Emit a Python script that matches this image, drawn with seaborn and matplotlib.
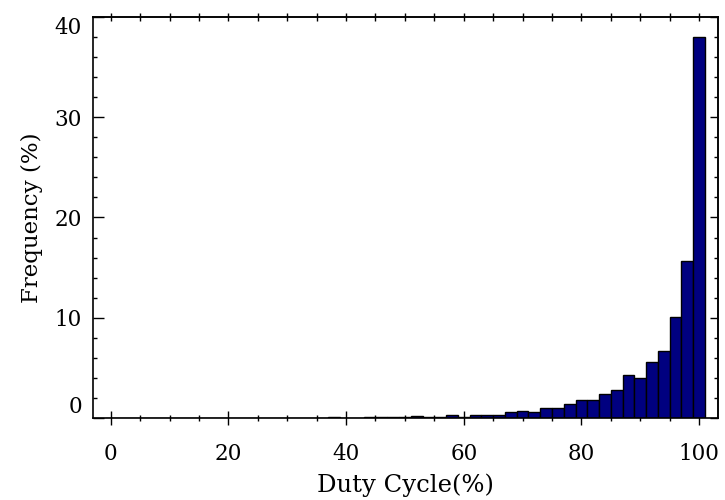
"""
Histogram of duty cycle (percent of samples per 2% bin), IDL-like look.
Output: out.png
"""

import matplotlib
matplotlib.use("Agg")
import matplotlib.pyplot as plt
import seaborn as sns
from matplotlib.ticker import MultipleLocator

# bin centres (duty cycle, %) and frequency (%)
duty_centres = list(range(0, 101, 2))
frequency = [
    0, 0, 0, 0, 0, 0, 0, 0, 0, 0,
    0, 0, 0, 0, 0, 0, 0, 0,
    0.02, 0.05, 0.03, 0.04, 0.05, 0.06, 0.05, 0.08, 0.15, 0.08,
    0.12, 0.33, 0.13, 0.27, 0.30, 0.33, 0.63, 0.73, 0.60, 0.97,
    1.00, 1.37, 1.80, 1.80, 2.43, 2.83, 4.30, 4.03, 5.57, 6.70,
    10.1, 15.7, 38.0,
]

x_ticks = [0, 20, 40, 60, 80, 100]
y_ticks = [0, 10, 20, 30, 40]

sns.set_style("ticks")
plt.rcParams["font.family"] = ["DejaVu Serif"]
plt.rcParams["text.color"] = "black"
plt.rcParams["axes.labelcolor"] = "black"
plt.rcParams["xtick.color"] = "black"
plt.rcParams["ytick.color"] = "black"

fig = plt.figure(figsize=(7.25, 5.0), dpi=100)
ax = fig.add_axes([0.1283, 0.164, 0.862, 0.802])

sns.histplot(
    x=duty_centres, weights=frequency, binwidth=2, binrange=(-1, 101),
    color="#000080", edgecolor="black", linewidth=1.0, alpha=1.0, ax=ax,
)

ax.set_xlim(-3, 103.2)
ax.set_ylim(0, 40)

for side in ["left", "right", "top", "bottom"]:
    ax.spines[side].set_visible(True)
    ax.spines[side].set_linewidth(1.2)
    ax.spines[side].set_color("black")

# ---- bottom axis ----
ax.set_xticks(x_ticks)
ax.xaxis.set_minor_locator(MultipleLocator(5))
ax.tick_params(axis="x", which="major", direction="inout", length=10, width=1.0,
               pad=13, labelsize=15.5, top=False, bottom=True)
ax.tick_params(axis="x", which="minor", direction="inout", length=5, width=1.0,
               top=False, bottom=True)

# ---- left axis ----
ax.set_yticks(y_ticks)
ax.yaxis.set_minor_locator(MultipleLocator(2))
ax.tick_params(axis="y", which="major", direction="in", length=8, width=1.0,
               pad=8, labelsize=15.5, right=False, left=True)
ax.tick_params(axis="y", which="minor", direction="in", length=3, width=1.0,
               right=False, left=True)

# end labels sit inside the axis range, like the original
ticks_y = ax.yaxis.get_major_ticks()
ticks_y[0].label1.set_va("bottom")
ticks_y[-1].label1.set_va("top")

# ---- top axis: plain crossing ticks ----
top = ax.secondary_xaxis("top")
top.xaxis.set_major_locator(MultipleLocator(5))
top.tick_params(axis="x", which="major", direction="inout", length=6, width=1.0,
                labeltop=False)
top.spines["top"].set_linewidth(1.2)

# ---- right axis: inward ticks ----
right = ax.secondary_yaxis("right")
right.yaxis.set_major_locator(MultipleLocator(10))
right.yaxis.set_minor_locator(MultipleLocator(2))
right.tick_params(axis="y", which="major", direction="in", length=6, width=1.0,
                  labelright=False)
right.tick_params(axis="y", which="minor", direction="in", length=3, width=1.0)
right.spines["right"].set_linewidth(1.2)

ax.set_xlabel("Duty Cycle(%)", fontsize=17.5, labelpad=6)
ax.set_ylabel("Frequency (%)", fontsize=16.5, labelpad=8)

fig.savefig("out.png", dpi=100)
plt.close(fig)
